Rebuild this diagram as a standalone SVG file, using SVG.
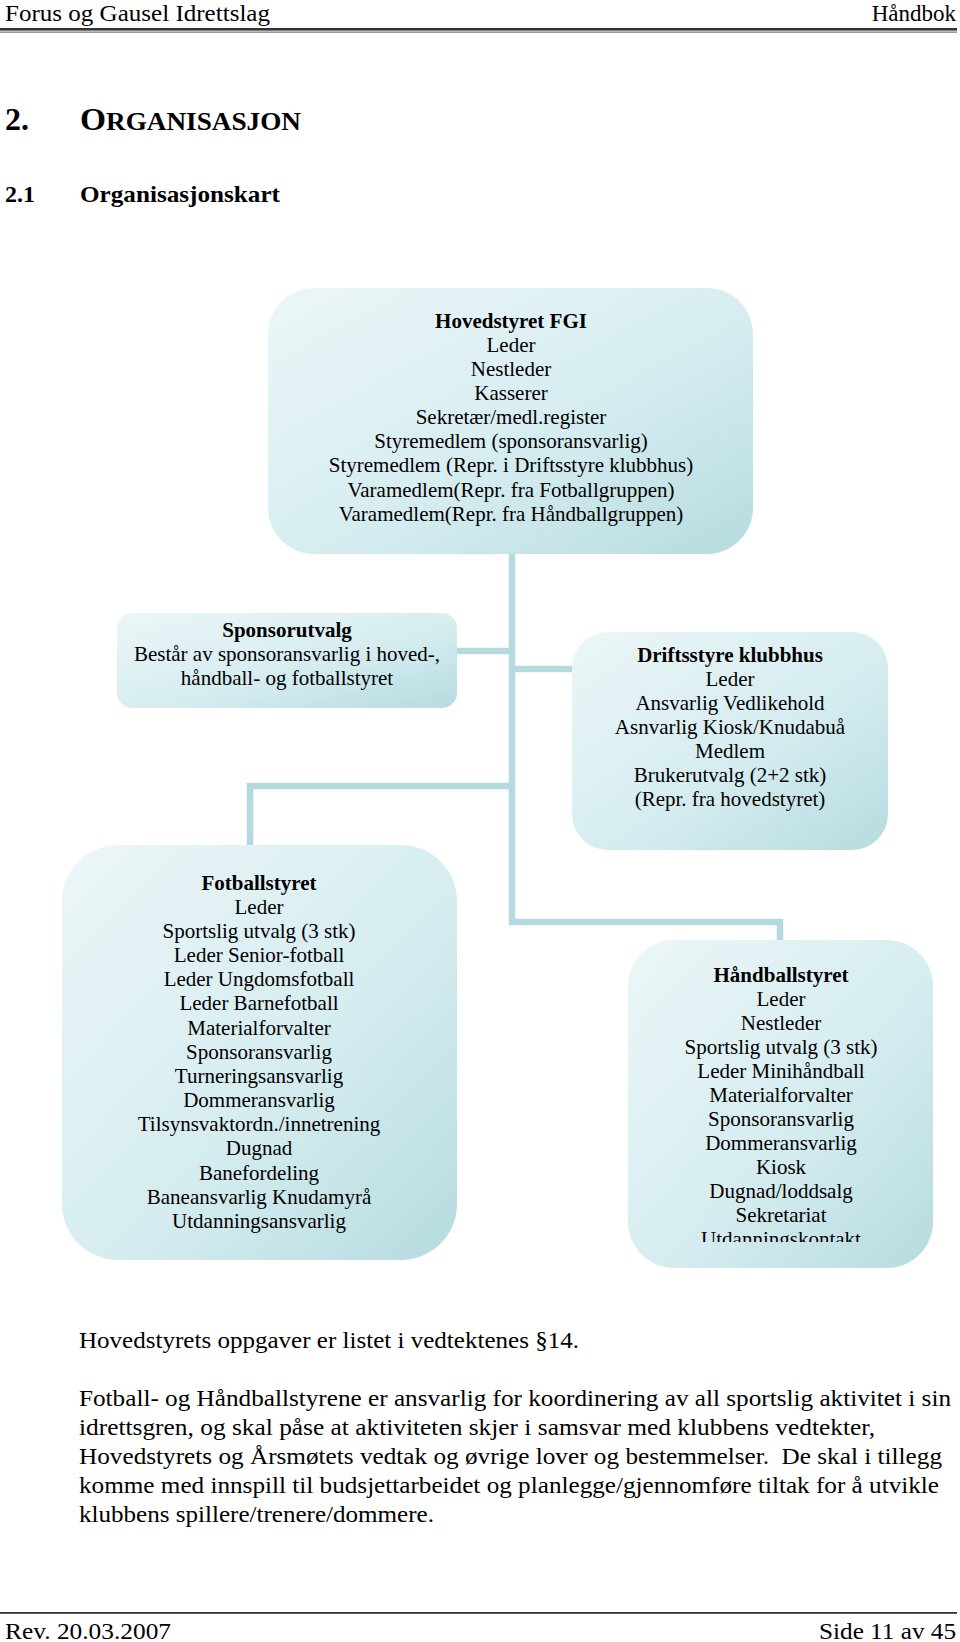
<svg xmlns="http://www.w3.org/2000/svg" width="960" height="1642" viewBox="0 0 960 1642">
<defs>
<linearGradient id="boxg" x1="0" y1="0" x2="1" y2="1">
<stop offset="0" stop-color="#ecf6f8"/>
<stop offset="0.55" stop-color="#d6edf0"/>
<stop offset="1" stop-color="#b6dbe0"/>
</linearGradient>
<clipPath id="clipU"><rect x="600" y="900" width="360" height="342"/></clipPath>
</defs>
<style>
text{font-family:"Liberation Serif","Times New Roman",serif;fill:#000}
.hd{font-size:23px}
.nt{font-size:21px;text-anchor:middle}
.nb{font-size:21px;text-anchor:middle;font-weight:bold}
.body{font-size:23.5px}
.box{fill:url(#boxg)}
.conn{fill:none;stroke:#b4d9de;stroke-width:6.5;stroke-linejoin:miter}
</style>
<rect width="960" height="1642" fill="#fff"/>

<g id="page-header">
<text class="hd" x="5" y="21" textLength="265" lengthAdjust="spacingAndGlyphs">Forus og Gausel Idrettslag</text>
<text class="hd" x="956" y="21" text-anchor="end">Håndbok</text>
<rect x="0" y="28" width="957" height="2.6" fill="#333"/>
<rect x="0" y="31.6" width="957" height="1" fill="#555"/>
</g>

<g id="headings">
<text x="5" y="130" font-size="32" font-weight="bold">2.</text>
<text x="80" y="130" font-weight="bold" textLength="221" lengthAdjust="spacingAndGlyphs"><tspan font-size="32">O</tspan><tspan font-size="26">RGANISASJON</tspan></text>
<text x="5" y="202" font-size="24" font-weight="bold">2.1</text>
<text x="80" y="202" font-size="24" font-weight="bold" textLength="200" lengthAdjust="spacingAndGlyphs">Organisasjonskart</text>
</g>

<g id="connectors">
<polyline class="conn" points="512,550 512,922 780,922 780,942"/>
<line class="conn" x1="455" y1="651" x2="512" y2="651"/>
<line class="conn" x1="512" y1="669" x2="574" y2="669"/>
<polyline class="conn" points="512,786 250,786 250,847"/>
</g>

<g id="hovedstyret">
<rect class="box" x="268" y="288" width="485" height="266" rx="46" ry="46"/>
<text class="nb" x="511" y="328">Hovedstyret FGI</text>
<text class="nt" x="511" y="352">Leder</text>
<text class="nt" x="511" y="376">Nestleder</text>
<text class="nt" x="511" y="400">Kasserer</text>
<text class="nt" x="511" y="424">Sekretær/medl.register</text>
<text class="nt" x="511" y="448">Styremedlem (sponsoransvarlig)</text>
<text class="nt" x="511" y="472">Styremedlem (Repr. i Driftsstyre klubbhus)</text>
<text class="nt" x="511" y="497">Varamedlem(Repr. fra Fotballgruppen)</text>
<text class="nt" x="511" y="521">Varamedlem(Repr. fra Håndballgruppen)</text>
</g>

<g id="sponsorutvalg">
<rect class="box" x="117" y="613" width="340" height="95" rx="15" ry="15"/>
<text class="nb" x="287" y="637">Sponsorutvalg</text>
<text class="nt" x="287" y="661">Består av sponsoransvarlig i hoved-,</text>
<text class="nt" x="287" y="685">håndball- og fotballstyret</text>
</g>

<g id="driftsstyre">
<rect class="box" x="572" y="632" width="316" height="218" rx="36" ry="36"/>
<text class="nb" x="730" y="662">Driftsstyre klubbhus</text>
<text class="nt" x="730" y="686">Leder</text>
<text class="nt" x="730" y="710">Ansvarlig Vedlikehold</text>
<text class="nt" x="730" y="734">Asnvarlig Kiosk/Knudabuå</text>
<text class="nt" x="730" y="758">Medlem</text>
<text class="nt" x="730" y="782">Brukerutvalg (2+2 stk)</text>
<text class="nt" x="730" y="806">(Repr. fra hovedstyret)</text>
</g>

<g id="fotballstyret">
<rect class="box" x="62" y="845" width="395" height="415" rx="56" ry="56"/>
<text class="nb" x="259" y="890">Fotballstyret</text>
<text class="nt" x="259" y="914">Leder</text>
<text class="nt" x="259" y="938">Sportslig utvalg (3 stk)</text>
<text class="nt" x="259" y="962">Leder Senior-fotball</text>
<text class="nt" x="259" y="986">Leder Ungdomsfotball</text>
<text class="nt" x="259" y="1010">Leder Barnefotball</text>
<text class="nt" x="259" y="1035">Materialforvalter</text>
<text class="nt" x="259" y="1059">Sponsoransvarlig</text>
<text class="nt" x="259" y="1083">Turneringsansvarlig</text>
<text class="nt" x="259" y="1107">Dommeransvarlig</text>
<text class="nt" x="259" y="1131">Tilsynsvaktordn./innetrening</text>
<text class="nt" x="259" y="1155">Dugnad</text>
<text class="nt" x="259" y="1180">Banefordeling</text>
<text class="nt" x="259" y="1204">Baneansvarlig Knudamyrå</text>
<text class="nt" x="259" y="1228">Utdanningsansvarlig</text>
</g>

<g id="handballstyret">
<rect class="box" x="628" y="940" width="305" height="328" rx="46" ry="46"/>
<text class="nb" x="781" y="982">Håndballstyret</text>
<text class="nt" x="781" y="1006">Leder</text>
<text class="nt" x="781" y="1030">Nestleder</text>
<text class="nt" x="781" y="1054">Sportslig utvalg (3 stk)</text>
<text class="nt" x="781" y="1078">Leder Minihåndball</text>
<text class="nt" x="781" y="1102">Materialforvalter</text>
<text class="nt" x="781" y="1126">Sponsoransvarlig</text>
<text class="nt" x="781" y="1150">Dommeransvarlig</text>
<text class="nt" x="781" y="1174">Kiosk</text>
<text class="nt" x="781" y="1198">Dugnad/loddsalg</text>
<text class="nt" x="781" y="1222">Sekretariat</text>
<text class="nt" x="781" y="1246" clip-path="url(#clipU)">Utdanningskontakt</text>
</g>

<g id="body-text">
<text class="body" x="79" y="1348" textLength="500" lengthAdjust="spacingAndGlyphs">Hovedstyrets oppgaver er listet i vedtektenes §14.</text>
<text class="body" x="79" y="1406" textLength="872" lengthAdjust="spacingAndGlyphs">Fotball- og Håndballstyrene er ansvarlig for koordinering av all sportslig aktivitet i sin</text>
<text class="body" x="79" y="1435" textLength="796" lengthAdjust="spacingAndGlyphs">idrettsgren, og skal påse at aktiviteten skjer i samsvar med klubbens vedtekter,</text>
<text class="body" x="79" y="1464" textLength="863" lengthAdjust="spacingAndGlyphs" xml:space="preserve">Hovedstyrets og Årsmøtets vedtak og øvrige lover og bestemmelser.  De skal i tillegg</text>
<text class="body" x="79" y="1493" textLength="860" lengthAdjust="spacingAndGlyphs">komme med innspill til budsjettarbeidet og planlegge/gjennomføre tiltak for å utvikle</text>
<text class="body" x="79" y="1522" textLength="355" lengthAdjust="spacingAndGlyphs">klubbens spillere/trenere/dommere.</text>
</g>

<g id="page-footer">
<rect x="0" y="1612" width="957" height="1.8" fill="#333"/>
<text class="hd" x="5" y="1639" textLength="166" lengthAdjust="spacingAndGlyphs">Rev. 20.03.2007</text>
<text class="hd" x="956" y="1639" text-anchor="end" textLength="137" lengthAdjust="spacingAndGlyphs">Side 11 av 45</text>
</g>
</svg>
